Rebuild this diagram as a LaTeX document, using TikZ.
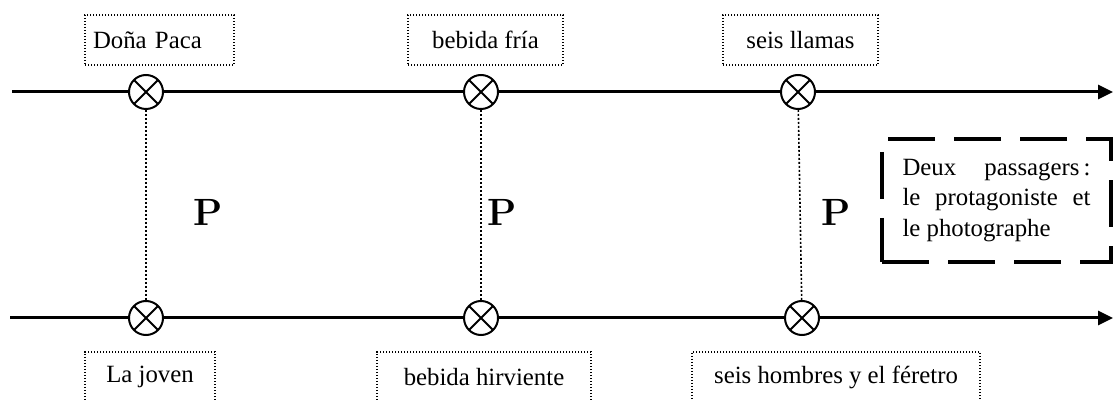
\documentclass[tikz,border=0pt]{standalone}
\usepackage{fontspec}
\setmainfont{Liberation Serif}
\newfontfamily\pfont{Latin Modern Roman}
\usetikzlibrary{arrows.meta}
\begin{document}
\begin{tikzpicture}[x=0.5pt,y=-0.5pt,
  every node/.style={font=\fontsize{12.4}{15.2}\selectfont},
  mainline/.style={line width=1.5pt,-{Triangle[length=7.5pt,width=7pt]}},
  xcirc/.style={circle,draw,line width=1pt,fill=white,minimum size=17pt,inner sep=0pt,
    path picture={\draw[line width=1pt]
      (path picture bounding box.north west)--(path picture bounding box.south east)
      (path picture bounding box.north east)--(path picture bounding box.south west);}},
  tbox/.style={draw,line width=0.6pt,dash pattern=on 0.6pt off 0.9pt,minimum height=25pt,inner sep=0pt},
  vdot/.style={line width=0.8pt,dash pattern=on 1pt off 1pt},
  dbox/.style={draw,line width=2.25pt,dash pattern=on 23.5pt off 9.5pt,minimum width=114.5pt,
    minimum height=61.5pt,inner sep=0pt,align=left},
  plabel/.style={font=\pfont\bfseries\fontsize{19}{19}\selectfont}
]
\path[use as bounding box] (0,0) rectangle (1118,400);
\clip (0,0) rectangle (1118,400);

% main lines
\coordinate (ts) at (12,92);
\coordinate (te) at (1113,92);
\coordinate (bs) at (10,318);
\coordinate (be) at (1113,318);
\draw[mainline] (ts) -- (te);
\draw[mainline] (bs) -- (be);

% circles
\node[xcirc] (t1) at (146,92) {};
\node[xcirc] (t2) at (481,92) {};
\node[xcirc] (t3) at (798,92) {};
\node[xcirc] (b1) at (146,318) {};
\node[xcirc] (b2) at (481,318) {};
\node[xcirc] (b3) at (802,318) {};

% dotted verticals
\draw[vdot] (t1) -- (b1);
\draw[vdot] (t2) -- (b2);
\draw[vdot] (t3) -- (b3);

% P labels
\node[plabel] (p1) at (208,212) {P};
\node[plabel] (p2) at (502,212) {P};
\node[plabel] (p3) at (836,212) {P};

% top boxes
\node[tbox,minimum width=74.5pt,text width=66.5pt,inner xsep=4pt,align=left] (n1) at (159.5,40) {Doña Paca};
\node[tbox,minimum width=77.5pt] (n2) at (485.5,40) {bebida fría};
\node[tbox,minimum width=77.5pt] (n3) at (800.5,40) {seis llamas};

% bottom boxes
\node[tbox,minimum width=65pt] (m1) at (150,377) {La joven};
\node[tbox,minimum width=107pt] (m2) at (484,377) {bebida hirviente};
\node[tbox,minimum width=144pt] (m3) at (836,377) {seis hombres y el féretro};

% dashed box
\node[dbox] (d) at (996.5,200.5) {\hbox to 94pt{Deux\hfill passagers\,:}\\\hbox to 94pt{le\hfill protagoniste\hfill et}\\le photographe};
\end{tikzpicture}
\end{document}
